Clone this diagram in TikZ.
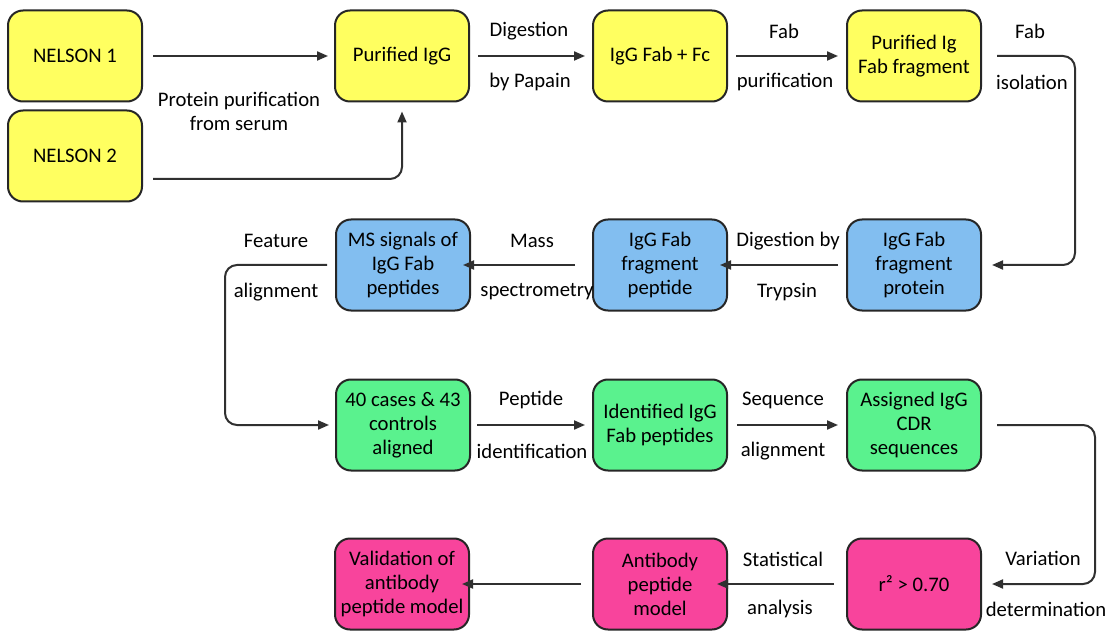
\documentclass[tikz,border=0pt]{standalone}
\usepackage{fontspec}
\setmainfont{Carlito}
\usetikzlibrary{arrows.meta}
\definecolor{boxyellow}{HTML}{FFFF60}
\definecolor{boxblue}{HTML}{82BEF0}
\definecolor{boxgreen}{HTML}{5AF28E}
\definecolor{boxpink}{HTML}{F8449C}
\definecolor{lncol}{HTML}{303030}
\begin{document}
\begin{tikzpicture}[x=1pt,y=-1pt,
    font=\fontsize{20.7}{24}\selectfont,
    stage/.style={draw=black!85,line width=2pt,rounded corners=15pt,
        minimum width=134pt,minimum height=91pt,align=center,inner sep=2pt},
    lbl/.style={align=center,inner sep=0pt},
    arr/.style={draw=lncol,line width=2pt,-{Triangle[length=11pt,width=9pt]}}]
    \useasboundingbox (0,0) rectangle (1108,636);
    % Row 1: serum samples to Fab fragment
    \node[stage,fill=boxyellow] (nel1) at (75,56) {NELSON 1};
    \node[stage,fill=boxyellow] (nel2) at (75,156) {NELSON 2};
    \node[stage,fill=boxyellow] (pig) at (402,56) {Purified IgG};
    \node[stage,fill=boxyellow] (fabfc) at (660,56) {IgG Fab + Fc};
    \node[stage,fill=boxyellow] (pfab) at (914,56) {Purified Ig\\Fab fragment};
    % Row 2: trypsin digestion and MS
    \node[stage,fill=boxblue] (fprot) at (914,265) {IgG Fab\\fragment\\protein};
    \node[stage,fill=boxblue] (fpep) at (660,265) {IgG Fab\\fragment\\peptide};
    \node[stage,fill=boxblue] (ms) at (403,265) {MS signals of\\IgG Fab\\peptides};
    % Row 3: alignment and identification
    \node[stage,fill=boxgreen] (cases) at (403,425) {40 cases \& 43\\controls\\aligned};
    \node[stage,fill=boxgreen] (ident) at (660,425) {Identified IgG\\Fab peptides};
    \node[stage,fill=boxgreen] (cdr) at (914,425) {Assigned IgG\\CDR\\sequences};
    % Row 4: model
    \node[stage,fill=boxpink] (rsq) at (914,584) {r² > 0.70};
    \node[stage,fill=boxpink] (abmod) at (660,584) {Antibody\\peptide\\model};
    \node[stage,fill=boxpink] (valid) at (402,584) {Validation of\\antibody\\peptide model};
    % connectors
    \draw[arr] ([xshift=10pt]nel1.east) -- ([xshift=-6pt]pig.west);
    \draw[arr,rounded corners=12pt] ([xshift=10pt,yshift=-23pt]nel2.east) -| ([yshift=-9pt]pig.south);
    \draw[arr] ([xshift=8pt]pig.east) -- ([xshift=-7pt]fabfc.west);
    \draw[arr] ([xshift=8pt]fabfc.east) -- ([xshift=-8pt]pfab.west);
    \draw[arr,rounded corners=12pt] ([xshift=15pt]pfab.east) -- ++(78,0) |- ([xshift=10pt]fprot.east);
    \draw[arr] ([xshift=-8pt]fprot.west) -- ([xshift=-8pt]fpep.east);
    \draw[arr] ([xshift=-17pt]fpep.west) -- ([xshift=-8pt]ms.east);
    \draw[arr,rounded corners=12pt] ([xshift=-8pt]ms.west) -- ++(-102,0) |- ([xshift=-6pt]cases.west);
    \draw[arr] ([xshift=6pt]cases.east) -- ([xshift=-7pt]ident.west);
    \draw[arr] ([xshift=9pt]ident.east) -- ([xshift=-8pt]cdr.west);
    \draw[arr,rounded corners=12pt] ([xshift=15pt]cdr.east) -- ++(98,0) |- ([xshift=10pt]rsq.east);
    \draw[arr] ([xshift=-12pt]rsq.west) -- ([xshift=-11pt]abmod.east);
    \draw[arr] ([xshift=-11pt]abmod.west) -- ([xshift=-8pt]valid.east);
    % step labels
    \node[lbl] (tprot) at (239,111) {Protein purification\\from serum};
    \node[lbl] (tdig1) at (529,31) {Digestion};
    \node[lbl] (tdig2) at (530,82) {by Papain};
    \node[lbl] (tfab1) at (784,31) {Fab};
    \node[lbl] (tfab2) at (785,82) {purification};
    \node[lbl] (tiso1) at (1030,31) {Fab};
    \node[lbl] (tiso2) at (1032,82) {isolation};
    \node[lbl] (ttry1) at (788,241) {Digestion by};
    \node[lbl] (ttry2) at (787,292) {Trypsin};
    \node[lbl] (tms1) at (532,241) {Mass};
    \node[lbl] (tms2) at (537,292) {spectrometry};
    \node[lbl] (tfeat1) at (276,241) {Feature};
    \node[lbl] (tfeat2) at (276,292) {alignment};
    \node[lbl] (tpep1) at (531,400) {Peptide};
    \node[lbl] (tpep2) at (532,451) {identification};
    \node[lbl] (tseq1) at (783,400) {Sequence};
    \node[lbl] (tseq2) at (783,451) {alignment};
    \node[lbl] (tvar1) at (1043,558) {Variation};
    \node[lbl] (tvar2) at (1046,609) {determination};
    \node[lbl] (tstat1) at (783,559) {Statistical};
    \node[lbl] (tstat2) at (780,609) {analysis};
\end{tikzpicture}
\end{document}
